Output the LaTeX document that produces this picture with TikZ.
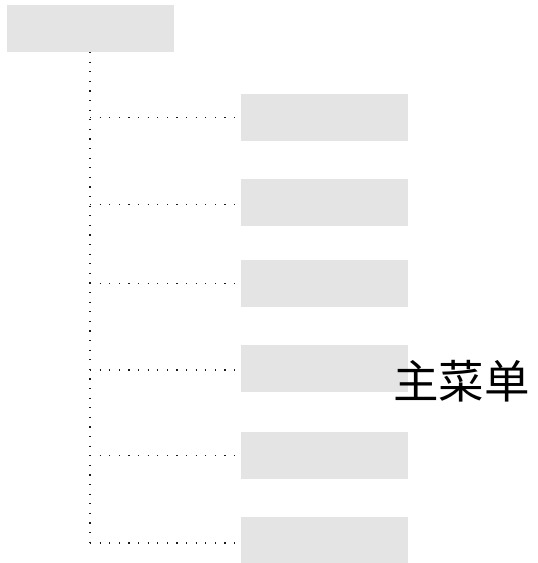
\documentclass[tikz,border=0pt]{standalone}
\usepackage{fontspec}
\newfontfamily\cjk{Noto Sans CJK SC}
\definecolor{boxgray}{HTML}{E4E4E4}
\definecolor{dotgray}{HTML}{1A1A1A}
\tikzset{
  menubox/.style={fill=boxgray, draw=none, minimum width=167pt, minimum height=46.5pt, inner sep=0pt, outer sep=0pt},
  dotline/.style={draw=dotgray, line width=1.1pt, dash pattern=on 1.1pt off 8.5pt},
  lbl/.style={font=\cjk\fontsize{45.5pt}{48pt}\selectfont, inner sep=0pt}
}
\begin{document}
\begin{tikzpicture}[x=1pt,y=-1pt]
\useasboundingbox (0,0) rectangle (538,563);
\node[menubox, anchor=north west] (root) at (7,5) {};
\node[menubox, anchor=north west] (c1) at (241,94) {};
\node[menubox, anchor=north west] (c2) at (241,179) {};
\node[menubox, anchor=north west] (c3) at (241,260) {};
\node[menubox, anchor=north west] (c4) at (241,345) {};
\node[menubox, anchor=north west] (c5) at (241,432) {};
\node[menubox, anchor=north west] (c6) at (241,516.5) {};
\coordinate (t0) at (90,52);
\coordinate (j1) at (90,117.7);
\coordinate (j2) at (90,204.3);
\coordinate (j3) at (90,283.7);
\coordinate (j4) at (90,370);
\coordinate (j5) at (90,455.3);
\coordinate (j6) at (90,543);
\draw[dotline] (t0) -- (j6);
\foreach \i in {1,...,6} {
  \draw[dotline, shorten >=5pt] (j\i) -- (j\i -| c\i.west);
}
\node[lbl] (title) at (461.5,381) {主菜单};
\end{tikzpicture}
\end{document}
